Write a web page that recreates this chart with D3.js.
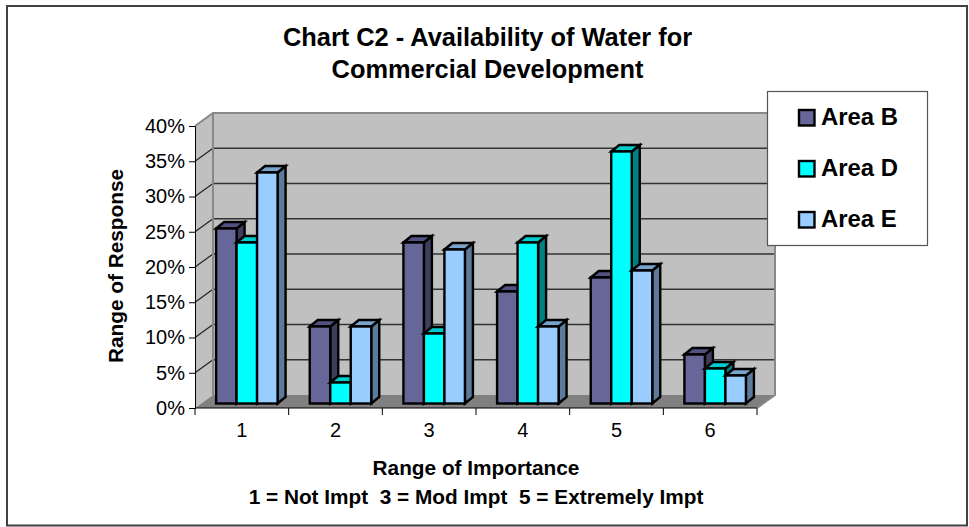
<!DOCTYPE html>
<html><head><meta charset="utf-8">
<script src="https://cdn.jsdelivr.net/npm/d3@7/dist/d3.min.js"></script>
<style>html,body{margin:0;background:#fff}svg{display:block}text{font-family:"Liberation Sans",Arial,sans-serif;fill:#000}</style>
</head><body><svg id="c" width="969" height="527"></svg>
<script>
const categories = ["1","2","3","4","5","6"];
const seriesNames = ["Area B","Area D","Area E"];
const areaB = [25,11,23,16,18,7];
const areaD = [23,3,10,23,36,5];
const areaE = [33,11,22,11,19,4];
const yTicks = [0,5,10,15,20,25,30,35,40];
const titleLines = ["Chart C2 - Availability of Water for","Commercial Development"];
const xTitleLines = ["Range of Importance","1 = Not Impt  3 = Mod Impt  5 = Extremely Impt"];
const yTitle = "Range of Response";
const fronts = ["#666699","#00ffff","#99ccff"];
const sides = ["#3d3d5c","#008080","#5c7a99"];
const tops = ["#525280","#00cccc","#7aa3cc"];

const values = [areaB, areaD, areaE];
const svg = d3.select("#c");
svg.append("rect").attr("x",7).attr("y",6).attr("width",960).attr("height",519.5).attr("fill","#fff").attr("stroke","#404040").attr("stroke-width",2);

const x = d3.scaleBand().domain(categories).range([195,757]);
const y = d3.scaleLinear().domain([0,40]).range([408,126]);
const yBar = d3.scaleLinear().domain([0,40]).range([403.5,123.5]);
const DX=18, DY=-13;
const wall = svg.append("g");
wall.append("polygon").attr("points",[[195,y(0)],[195,y(40)],[195+DX,y(40)+DY],[195+DX,y(0)+DY]].join(" ")).attr("fill","#c0c0c0");
wall.append("rect").attr("x",195+DX).attr("y",y(40)+DY).attr("width",562).attr("height",y(0)-y(40)).attr("fill","#c0c0c0");
wall.append("polygon").attr("points",[[195,y(0)],[757,y(0)],[757+DX,y(0)+DY],[195+DX,y(0)+DY]].join(" ")).attr("fill","#808080");
yTicks.slice(1,-1).forEach(t=>{
  wall.append("line").attr("x1",195).attr("y1",y(t)).attr("x2",195+DX).attr("y2",y(t)+DY).attr("stroke","#222").attr("stroke-width",1.2);
  wall.append("line").attr("x1",195+DX).attr("y1",y(t)+DY).attr("x2",757+DX).attr("y2",y(t)+DY).attr("stroke","#333").attr("stroke-width",1.3);
});
wall.append("polyline").attr("points",[[195,y(40)],[195+DX,y(40)+DY],[757+DX,y(40)+DY],[757+DX,y(0)+DY],[757,y(0)]].join(" ")).attr("fill","none").attr("stroke","#888").attr("stroke-width",2);
wall.append("line").attr("x1",195+DX).attr("y1",y(40)+DY).attr("x2",195+DX).attr("y2",y(0)+DY).attr("stroke","#888").attr("stroke-width",2);

const inner = d3.scaleBand().domain(d3.range(3)).range([0,61.5]);
const ox=5, bx=8, by=-6.5;
const gap=(x.bandwidth()-61.5)/2;
const bars = svg.append("g").attr("stroke","#000").attr("stroke-width",2.4).attr("stroke-linejoin","miter");
categories.forEach((c,i)=>{
  values.forEach((v,s)=>{
    const x0=x(c)+gap+inner(s)+ox, w=inner.bandwidth(), yb=yBar(0), yt=yBar(v[i]);
    bars.append("polygon").attr("points",[[x0+w,yb],[x0+w+bx,yb+by],[x0+w+bx,yt+by],[x0+w,yt]].join(" ")).attr("fill",sides[s]);
    bars.append("polygon").attr("points",[[x0,yt],[x0+bx,yt+by],[x0+w+bx,yt+by],[x0+w,yt]].join(" ")).attr("fill",tops[s]);
    bars.append("rect").attr("x",x0).attr("y",yt).attr("width",w).attr("height",yb-yt).attr("fill",fronts[s]);
  });
});

const ay = svg.append("g").attr("transform","translate(195,0)").call(d3.axisLeft(y).tickValues(yTicks).tickFormat(d=>d+"%").tickSize(6).tickPadding(4));
ay.selectAll("text").attr("font-size",20).style("font-family",'"Liberation Sans",Arial,sans-serif');
ay.selectAll("line,path").attr("stroke","#000");
const ax = svg.append("g").attr("transform","translate(0,408)").call(d3.axisBottom(x).tickSize(0).tickPadding(15));
ax.selectAll("text").attr("font-size",20).style("font-family",'"Liberation Sans",Arial,sans-serif');
ax.selectAll("path").attr("stroke","#000").attr("d","M195,0H757");
d3.range(7).forEach(i=>ax.append("line").attr("x1",195+i*x.step()).attr("x2",195+i*x.step()).attr("y1",0).attr("y2",7).attr("stroke","#000"));

titleLines.forEach((t,i)=>svg.append("text").attr("x",487.5).attr("y",46+i*32).attr("text-anchor","middle").attr("font-size",25.4).attr("font-weight","bold").text(t));
xTitleLines.forEach((t,i)=>svg.append("text").attr("x",476).attr("y",475+i*29).attr("text-anchor","middle").attr("font-size",20.8).attr("font-weight","bold").style("white-space","pre").text(t));
svg.append("text").attr("transform","translate(123,266) rotate(-90)").attr("text-anchor","middle").attr("font-size",20.8).attr("font-weight","bold").text(yTitle);

const lg = svg.append("g");
lg.append("rect").attr("x",767.5).attr("y",91.5).attr("width",160).attr("height",154).attr("fill","#fff").attr("stroke","#555").attr("stroke-width",1.2);
seriesNames.forEach((n,i)=>{
  const cy=117.5+i*51;
  lg.append("rect").attr("x",799).attr("y",cy-7.5).attr("width",15.5).attr("height",15.5).attr("fill",fronts[i]).attr("stroke","#000").attr("stroke-width",2.4);
  lg.append("text").attr("x",821).attr("y",cy+7).attr("font-size",23.9).attr("font-weight","bold").text(n);
});
</script></body></html>
